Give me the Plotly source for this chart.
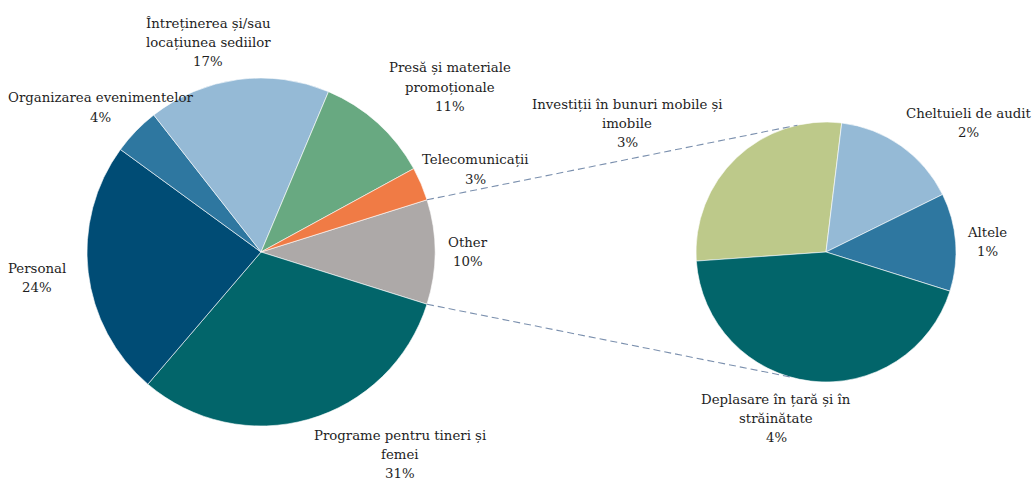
import math
import plotly.graph_objects as go

# ---------------- data ----------------
main_labels = ["Other", "Programe pentru tineri și<br>femei", "Personal",
               "Organizarea evenimentelor", "Întreținerea și/sau<br>locațiunea sediilor",
               "Presă și materiale<br>promoționale", "Telecomunicații"]
main_values = [9.7, 31.4, 23.75, 4.4, 16.9, 10.7, 3.1]
main_colors = ["#ADA9A8", "#02656A", "#004C75", "#2E77A0", "#95BAD6", "#68A981", "#F07B45"]

sub_labels = ["Investiții în bunuri mobile și<br>imobile", "Cheltuieli de audit",
              "Altele", "Deplasare în țară și în<br>străinătate"]
sub_values = [2.72, 1.53, 1.18, 4.27]
sub_colors = ["#BDC98A", "#95BAD6", "#2E77A0", "#02656A"]

# ---------------- layout geometry (pixels) ----------------
W, H = 1035, 482
c1x, c1y, r1 = 261, 252, 174
c2x, c2y, r2 = 826, 252, 130
sub_rotation = -94

# label anchor positions (center x, y of first line) in px
main_label_pos = [(468, 242), (400, 435), (37, 268), (100, 98), (208, 23), (450, 68), (475, 160)]
sub_label_pos = [(627, 104), (968, 113), (987, 232), (776, 399)]
line_h = 19.3

FONT = "DejaVu Serif"
FSIZE = 13.3
TCOL = "#1e1e1e"


def px(x):
    return x / W


def py(y):
    return 1 - y / H


total = sum(main_values)
other_frac = main_values[0] / total
main_rotation = 90 - other_frac * 360 / 2

fig = go.Figure()
fig.add_trace(go.Pie(
    values=main_values, labels=[l.replace("<br>", " ") for l in main_labels],
    sort=False, direction="clockwise", rotation=main_rotation,
    marker=dict(colors=main_colors, line=dict(color="white", width=0.6)),
    textinfo="none", hoverinfo="label+percent",
    domain=dict(x=[px(c1x - r1), px(c1x + r1)], y=[py(c1y + r1), py(c1y - r1)]),
    showlegend=False,
))
fig.add_trace(go.Pie(
    values=sub_values, labels=[l.replace("<br>", " ") for l in sub_labels],
    sort=False, direction="clockwise", rotation=sub_rotation,
    marker=dict(colors=sub_colors, line=dict(color="white", width=0.6)),
    textinfo="none", hoverinfo="label+value",
    domain=dict(x=[px(c2x - r2), px(c2x + r2)], y=[py(c2y + r2), py(c2y - r2)]),
    showlegend=False,
))

annotations = []


def add_label(text, pct, pos):
    lines = text.split("<br>") + [f"{pct}%"]
    x0, y0 = pos
    for i, ln in enumerate(lines):
        annotations.append(dict(
            x=px(x0), y=py(y0 + i * line_h), xref="paper", yref="paper",
            text=ln, showarrow=False, xanchor="center", yanchor="middle",
            font=dict(family=FONT, size=FSIZE, color=TCOL),
        ))


for lab, v, pos in zip(main_labels, main_values, main_label_pos):
    add_label(lab, round(v / total * 100), pos)
for lab, v, pos in zip(sub_labels, sub_values, sub_label_pos):
    add_label(lab, round(v / total * 100), pos)

# connector lines from "Other" slice edges to the secondary pie
half = math.radians(other_frac * 360 / 2)
p_top = (c1x + r1 * math.cos(half), c1y - r1 * math.sin(half))
p_bot = (c1x + r1 * math.cos(-half), c1y - r1 * math.sin(-half))
a_top, a_bot = math.radians(102.7), math.radians(253.9)
q_top = (c2x + r2 * math.cos(a_top), c2y - r2 * math.sin(a_top))
q_bot = (c2x + r2 * math.cos(a_bot), c2y - r2 * math.sin(a_bot))

shapes = []
for a, b in [(p_top, q_top), (p_bot, q_bot)]:
    shapes.append(dict(type="line", xref="paper", yref="paper",
                       x0=px(a[0]), y0=py(a[1]), x1=px(b[0]), y1=py(b[1]),
                       line=dict(color="#7B90AE", width=1.1, dash="7px,4px")))

fig.update_layout(
    width=W, height=H, autosize=False,
    margin=dict(l=0, r=0, t=0, b=0),
    paper_bgcolor="white", plot_bgcolor="white",
    annotations=annotations, shapes=shapes,
)

fig.write_html(
    "out.html",
    config={"displayModeBar": False},
    post_script="document.body.style.margin='0px';document.body.style.overflow='hidden';",
)
